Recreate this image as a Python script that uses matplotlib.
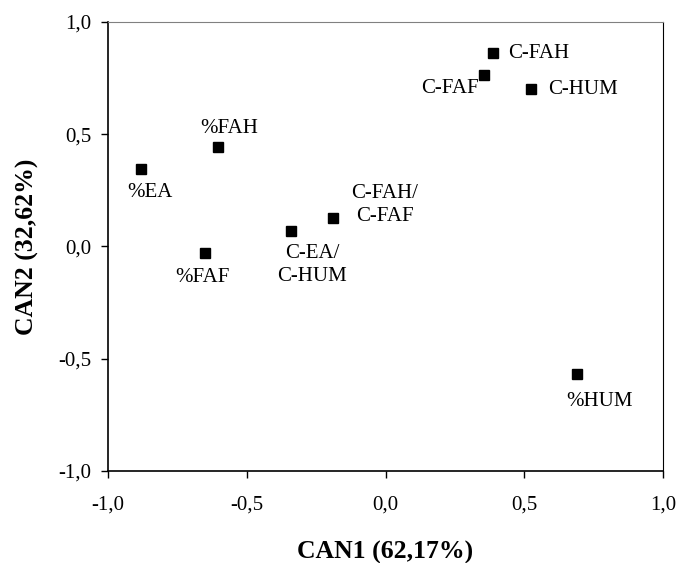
import matplotlib
matplotlib.use("Agg")
import matplotlib.pyplot as plt
from matplotlib.ticker import FuncFormatter

# Canonical scores
labels = ["%EA", "%FAH", "%FAF", "C-EA/\nC-HUM", "C-FAH/\nC-FAF",
          "C-FAH", "C-FAF", "C-HUM", "%HUM"]
can1 = [-0.881, -0.604, -0.650, -0.341, -0.189, 0.387, 0.356, 0.523, 0.690]
can2 = [0.345, 0.443, -0.030, 0.068, 0.126, 0.860, 0.765, 0.701, -0.571]

# label offsets (pixels) and alignment
offsets = [(9, -24), (11, 18), (-3, -24), (21, -34), (52, 13),
           (15, 0), (-6, -14), (17, 0), (23, -27)]
aligns = ["center", "center", "center", "center", "center",
          "left", "right", "left", "center"]

plt.rcParams["font.family"] = ["Liberation Serif", "DejaVu Serif"]

fig = plt.figure(figsize=(6.8, 5.63), dpi=100)
ax = fig.add_axes([108 / 680, 1 - 470.7 / 563, 555 / 680, 448.7 / 563])

ax.plot(can1, can2, "s", color="black", markersize=7, linestyle="none")
for lab, x, y, (dx, dy), ha in zip(labels, can1, can2, offsets, aligns):
    ax.annotate(lab, (x, y), xytext=(dx, dy), textcoords="offset pixels",
                ha=ha, va="center", fontsize=15, linespacing=1.25)

ax.set_xlim(-1, 1)
ax.set_ylim(-1, 1)
ax.set_xticks([-1, -0.5, 0, 0.5, 1])
ax.set_yticks([-1, -0.5, 0, 0.5, 1])
fmt = FuncFormatter(lambda v, p: ("%.1f" % v).replace(".", ","))
ax.xaxis.set_major_formatter(fmt)
ax.yaxis.set_major_formatter(fmt)
ax.tick_params(direction="out", length=5, width=1, labelsize=15,
               top=False, right=False)
ax.tick_params(axis="x", pad=13)
ax.tick_params(axis="y", pad=7)

ax.spines["left"].set_linewidth(1.2)
ax.spines["bottom"].set_linewidth(1.2)
ax.spines["top"].set_color("#808080")
ax.spines["right"].set_color("black")

ax.set_xlabel("CAN1 (62,17%)", fontsize=18.5, fontweight="bold", labelpad=19)
ax.set_ylabel("CAN2 (32,62%)", fontsize=18.5, fontweight="bold", labelpad=14)

fig.savefig("out.png", dpi=100)
